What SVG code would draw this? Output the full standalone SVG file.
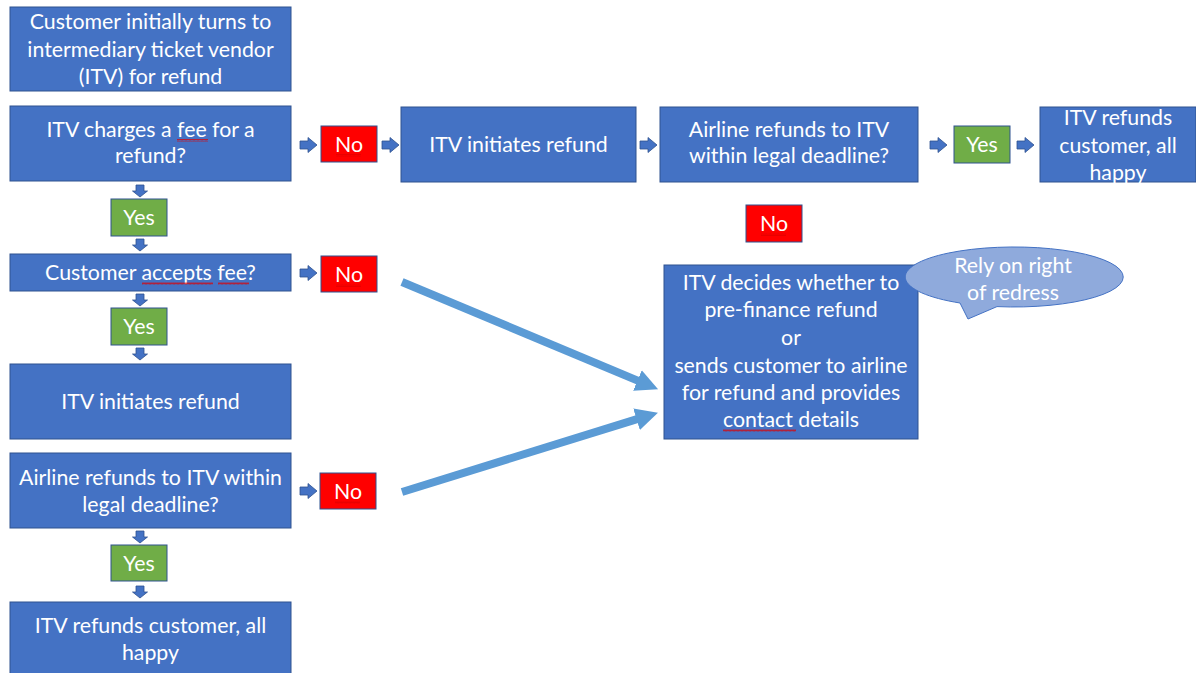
<svg xmlns="http://www.w3.org/2000/svg" width="1196" height="673" viewBox="0 0 1196 673">
<style>
.box{fill:#4472C4;stroke:#2F528F;stroke-width:1}
.yes{fill:#70AD47;stroke:#2F528F;stroke-width:1}
.no{fill:#FF0000;stroke:#2F528F;stroke-width:1}
.call{fill:#8FAADC;stroke:#4472C4;stroke-width:1}
.t{font-family:Lato,"Liberation Sans",sans-serif;font-size:21.3px;fill:#FFFFFF;text-anchor:middle}
.sa{fill:#4472C4;stroke:#2F528F;stroke-width:0.8}
.big{stroke:#5B9BD5;stroke-width:8;fill:none}
.sq{fill:url(#squig)}
</style>
<defs>
<pattern id="squig" width="4" height="3" patternUnits="userSpaceOnUse">
<path d="M0 2.5 L1 0.5 L2 2.5 L3 0.5 L4 2.5" fill="none" stroke="#E00000" stroke-width="0.7"/>
</pattern>
<path id="ra" d="M0 -4 H8 V-7.5 L17 0 L8 7.5 V4 H0 Z"/>
<path id="da" d="M-4 0 V6 H-7.5 L0 12 L7.5 6 H4 V0 Z"/>
<marker id="bh" viewBox="0 0 10 10" refX="1" refY="5" markerWidth="2.8" markerHeight="3.1" markerUnits="strokeWidth" orient="auto">
<path d="M0 0 L10 5 L0 10 Z" fill="#5B9BD5"/>
</marker>
</defs>

<g id="connectors">
<use href="#ra" class="sa" x="300" y="145"/>
<use href="#ra" class="sa" x="382" y="145"/>
<use href="#ra" class="sa" x="640" y="145"/>
<use href="#ra" class="sa" x="930" y="145"/>
<use href="#ra" class="sa" x="1017" y="145"/>
<use href="#ra" class="sa" x="300" y="273"/>
<use href="#ra" class="sa" x="300" y="491"/>
<use href="#da" class="sa" x="140" y="185"/>
<use href="#da" class="sa" x="140" y="239"/>
<use href="#da" class="sa" x="140" y="294"/>
<use href="#da" class="sa" x="140" y="348"/>
<use href="#da" class="sa" x="140" y="531"/>
<use href="#da" class="sa" x="140" y="586"/>
<line class="big" x1="402" y1="282" x2="639.5" y2="381.4" marker-end="url(#bh)"/>
<line class="big" x1="402" y1="492" x2="638.7" y2="418.6" marker-end="url(#bh)"/>
</g>

<g id="n1"><rect class="box" x="10" y="7" width="281" height="84"/>
<text class="t" x="150.5" y="29">Customer initially turns to</text>
<text class="t" x="150.5" y="57">intermediary ticket vendor</text>
<text class="t" x="150.5" y="84">(ITV) for refund</text></g>

<g id="n2"><rect class="box" x="10" y="106" width="281" height="75"/>
<text class="t" x="150.5" y="137">ITV charges a fee for a</text>
<text class="t" x="150.5" y="163">refund?</text>
<rect class="sq" x="177" y="139" width="31" height="3"/></g>

<g id="n3"><rect class="no" x="321" y="126" width="56" height="36"/>
<text class="t" x="349" y="152">No</text>
<rect class="sq" x="336" y="154" width="25" height="3"/></g>

<g id="n4"><rect class="box" x="401" y="107" width="235" height="75"/>
<text class="t" x="518.5" y="152">ITV initiates refund</text></g>

<g id="n5"><rect class="box" x="660" y="107" width="258" height="75"/>
<text class="t" x="789" y="137">Airline refunds to ITV</text>
<text class="t" x="789" y="163">within legal deadline?</text></g>

<g id="n6"><rect class="yes" x="954" y="126" width="56" height="37"/>
<text class="t" x="982" y="152">Yes</text></g>

<g id="n7"><rect class="box" x="1040" y="107" width="156" height="75"/>
<text class="t" x="1118" y="125">ITV refunds</text>
<text class="t" x="1118" y="153">customer, all</text>
<text class="t" x="1118" y="180">happy</text></g>

<g id="n8"><rect class="no" x="746" y="205" width="56" height="37"/>
<text class="t" x="774" y="231">No</text>
<rect class="sq" x="761" y="233" width="25" height="3"/></g>

<g id="n9"><rect class="yes" x="111" y="199" width="56" height="37"/>
<text class="t" x="139" y="225">Yes</text></g>

<g id="n10"><rect class="box" x="10" y="254" width="281" height="37"/>
<text class="t" x="150.5" y="280">Customer accepts fee?</text>
<rect class="sq" x="142" y="282" width="71" height="3"/>
<rect class="sq" x="218" y="282" width="31" height="3"/></g>

<g id="n11"><rect class="no" x="321" y="256" width="56" height="36"/>
<text class="t" x="349" y="282">No</text>
<rect class="sq" x="336" y="284" width="25" height="3"/></g>

<g id="n12"><rect class="yes" x="111" y="308" width="56" height="37"/>
<text class="t" x="139" y="334">Yes</text></g>

<g id="n13"><rect class="box" x="10" y="364" width="281" height="75"/>
<text class="t" x="150.5" y="409">ITV initiates refund</text></g>

<g id="n14"><rect class="box" x="664" y="265" width="254" height="174"/>
<text class="t" x="791" y="290">ITV decides whether to</text>
<text class="t" x="791" y="317">pre-finance refund</text>
<text class="t" x="791" y="345">or</text>
<text class="t" x="791" y="373">sends customer to airline</text>
<text class="t" x="791" y="400">for refund and provides</text>
<text class="t" x="791" y="427">contact details</text>
<rect class="sq" x="723" y="429" width="73" height="3"/></g>

<g id="n15"><path class="call" d="M960 303 A109 30 0 1 1 997 306.6 L968 319 Z"/>
<text class="t" x="1013" y="273">Rely on right</text>
<text class="t" x="1013" y="300">of redress</text></g>

<g id="n16"><rect class="box" x="10" y="453" width="281" height="75"/>
<text class="t" x="150.5" y="485">Airline refunds to ITV within</text>
<text class="t" x="150.5" y="512">legal deadline?</text></g>

<g id="n17"><rect class="no" x="320" y="473" width="56" height="36"/>
<text class="t" x="348" y="499">No</text>
<rect class="sq" x="335" y="501" width="25" height="3"/></g>

<g id="n18"><rect class="yes" x="111" y="545" width="56" height="36"/>
<text class="t" x="139" y="571">Yes</text></g>

<g id="n19"><rect class="box" x="10" y="602" width="281" height="75"/>
<text class="t" x="150.5" y="633">ITV refunds customer, all</text>
<text class="t" x="150.5" y="660">happy</text></g>
</svg>
